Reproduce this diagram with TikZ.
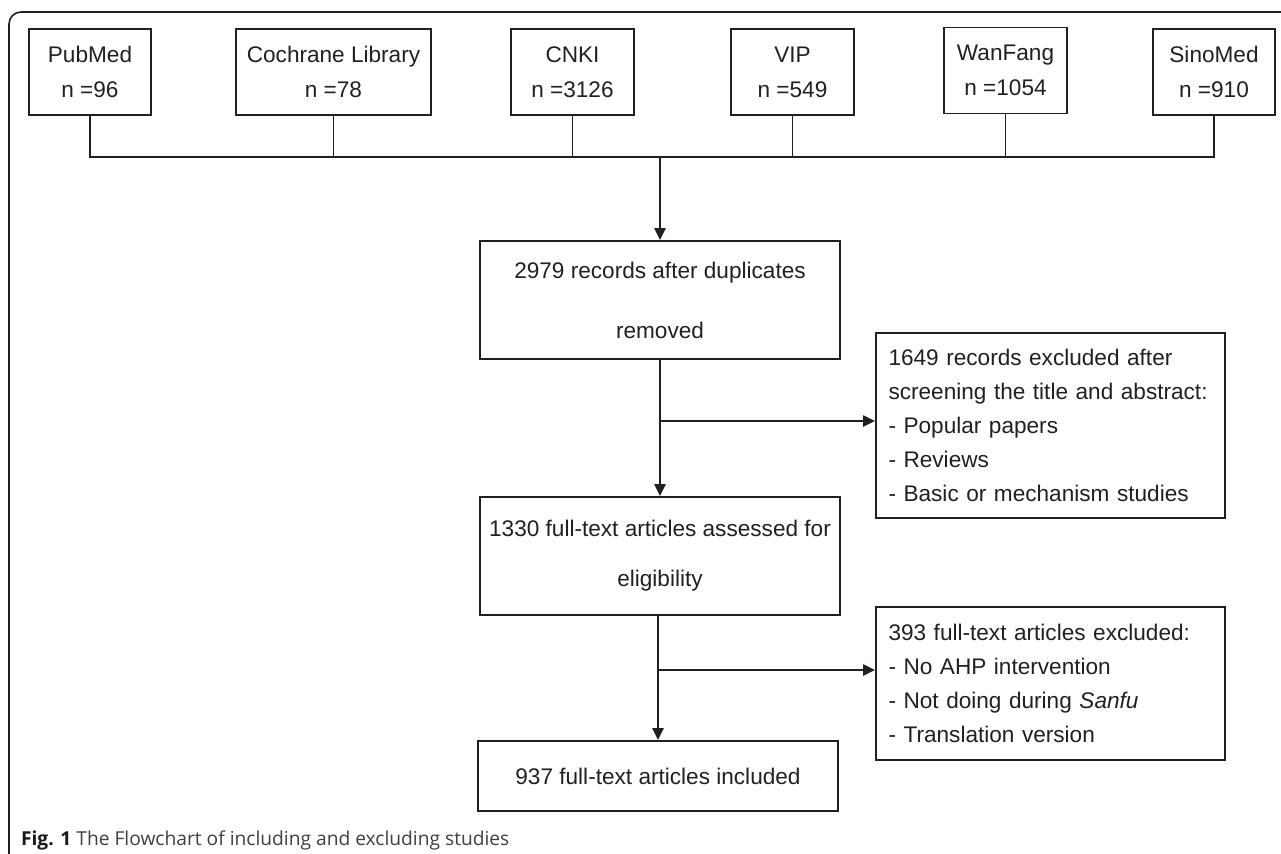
\documentclass[tikz,border=0pt]{standalone}
\usepackage{fontspec}
\setmainfont{Liberation Sans}
\newfontfamily\capfont{Open Sans}
\usetikzlibrary{arrows.meta, positioning, calc}
\definecolor{ink}{HTML}{231F20}

\begin{document}
\begin{tikzpicture}[x=0.5pt, y=-0.5pt, >={Triangle[length=6pt,width=5.5pt]},
  db/.style={draw=ink, line width=0.9pt, minimum height=43pt, minimum width=61.5pt, align=center,
    text=ink, font=\fontsize{11.3}{17.5}\selectfont},
  flow/.style={draw=ink, line width=0.9pt, minimum width=180pt, align=center, text=ink},
  excl/.style={draw=ink, line width=0.9pt, text width=162pt, inner xsep=6.25pt, align=left,
    text=ink, font=\fontsize{11.3}{17}\selectfont},
  link/.style={draw=ink, line width=0.7pt},
  arr/.style={draw=ink, line width=1.1pt, ->}]
\useasboundingbox (0,0) rectangle (1281,853);
\draw[ink, line width=0.8pt, rounded corners=6pt] (9,880) -- (9,12) -- (1300,12);

\node[db, minimum width=61pt] (pubmed) at (90,72) {PubMed\\ n =96};
\node[db, minimum width=97.5pt] (cochrane) at (333.5,72) {Cochrane Library\\ n =78};
\node[db] (cnki) at (572.5,72) {CNKI\\ n =3126};
\node[db] (vip) at (792.5,72) {VIP\\ n =549};
\node[db] (wanfang) at (1005.5,70.5) {WanFang\\ n =1054};
\node[db, minimum width=61pt] (sinomed) at (1214,72) {SinoMed\\ n =910};

\node[flow, minimum height=59pt, font=\fontsize{11.3}{30}\selectfont] (dedup) at (660,300)
  {2979 records after duplicates\\ removed};
\node[flow, minimum height=59pt, font=\fontsize{11.3}{25}\selectfont] (fulltext) at (660,556)
  {1330 full-text articles assessed for\\ eligibility};
\node[flow, minimum height=35pt, font=\fontsize{11.3}{17}\selectfont] (included) at (658,776)
  {937 full-text articles included};

\node[excl, minimum height=92.5pt] (screen) at (1050.5,425.5)
  {1649 records excluded after\\ screening the title and abstract:\\ - Popular papers\\ - Reviews\\ - Basic or mechanism studies};
\node[excl, minimum height=76.5pt] (rejected) at (1050.5,683.5)
  {393 full-text articles excluded:\\ - No AHP intervention\\ - Not doing during \textit{Sanfu}\\ - Translation version};

\coordinate (bus) at (660,157);
\draw[link] (pubmed.south) |- (bus) -| (sinomed.south);
\foreach \db in {cochrane, cnki, vip, wanfang}
  \draw[link] (\db.south) -- (\db.south |- bus);
\draw[arr] (bus) -- (dedup.north);

\coordinate (split1) at (660,421);
\coordinate (split2) at (658,670);
\draw[arr] (dedup.south) -- (fulltext.north);
\draw[arr] (split1) -- (split1 -| screen.west);
\draw[arr] (included.north |- fulltext.south) -- (included.north);
\draw[arr] (split2) -- (split2 -| rejected.west);

\node[anchor=base west, text=black!75, font=\capfont\fontsize{9.6}{11}\selectfont] (caption) at (14,845)
  {\textbf{\color{black!90}Fig. 1} The Flowchart of including and excluding studies};
\end{tikzpicture}
\end{document}
